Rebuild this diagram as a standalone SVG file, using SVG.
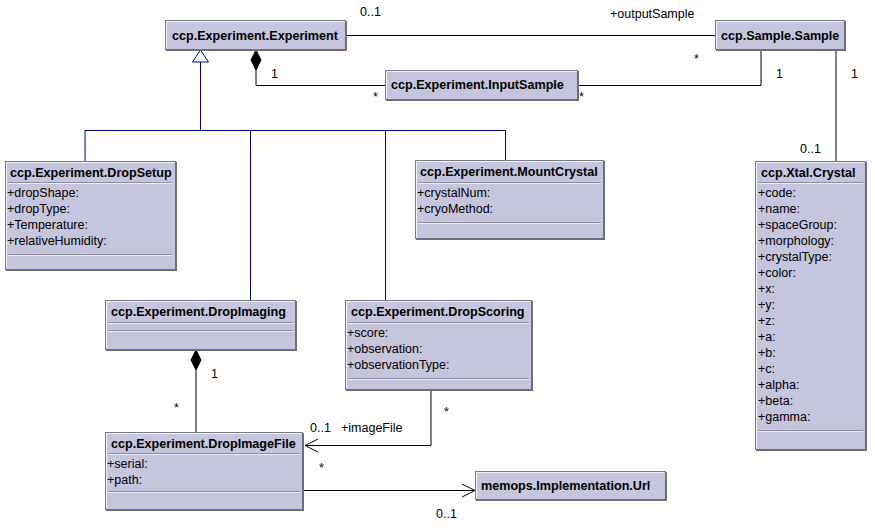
<svg xmlns="http://www.w3.org/2000/svg" width="875" height="530" viewBox="0 0 875 530">
<style>
.box{fill:#c5c5dd;stroke:#7a7a86;stroke-width:1}
.hl{stroke:#f2f2f8;stroke-width:1;fill:none}
.sh{stroke:#6e6e78;stroke-width:2;fill:none}
.sep{stroke:#8e8e9e;stroke-width:1}
.sepw{stroke:#ececf4;stroke-width:1}
.t{font-family:"Liberation Sans",Arial,sans-serif;font-weight:bold;font-size:12.6px;fill:#000}
.a{font-family:"Liberation Sans",Arial,sans-serif;font-size:12.5px;fill:#000}
.l{font-family:"Liberation Sans",Arial,sans-serif;font-size:12.5px;fill:#000}
.c{stroke:#000;stroke-width:1;fill:none}
.g{stroke:#000080;stroke-width:1;fill:none}
</style>
<rect width="875" height="530" fill="#fff"/>
<g id="connectors">
<path class="c" d="M345,35.5H715"/>
<path class="c" d="M256,70V85.5H385"/>
<path class="c" d="M761,50V85.5H577"/>
<path class="c" d="M836,50V161"/>
<path class="g" d="M200.5,62V130.5M85,130.5H505.5M85,130V161M250.5,130V300M385.5,130V300M505.5,130V160"/>
<polygon points="200.5,50 192.5,62 208.5,62" fill="#fff" stroke="#000080"/>
<polygon points="256,50 261,60 256,70 251,60" fill="#000" stroke="#000"/>
<path class="c" d="M196,370V432"/>
<polygon points="196,350 201,360 196,370 191,360" fill="#000" stroke="#000"/>
<path class="c" d="M431,390V445.5H305M318,439L305,445.5L318,452"/>
<path class="c" d="M303,490.5H475M462,484L475,490.5L462,497"/>
<text class="l" x="360" y="16">0..1</text>
<text class="l" x="610" y="18">+outputSample</text>
<text class="l" x="694" y="63">*</text>
<text class="l" x="271" y="78">1</text>
<text class="l" x="373" y="101">*</text>
<text class="l" x="579" y="101">*</text>
<text class="l" x="776" y="78">1</text>
<text class="l" x="851" y="78">1</text>
<text class="l" x="800" y="153">0..1</text>
<text class="l" x="211" y="378">1</text>
<text class="l" x="174" y="412">*</text>
<text class="l" x="444" y="416">*</text>
<text class="l" x="310" y="432">0..1</text>
<text class="l" x="341" y="432">+imageFile</text>
<text class="l" x="319" y="472">*</text>
<text class="l" x="436" y="518">0..1</text>
</g>
<g id="Experiment">
<rect class="box" x="165.5" y="20.5" width="180" height="29"/>
<path class="hl" d="M166.5,48.5V21.5H344.5"/><path class="sh" d="M166,50H346V21"/>
<text class="t" x="172" y="40">ccp.Experiment.Experiment</text>
</g>
<g id="InputSample">
<rect class="box" x="385.5" y="70.5" width="192" height="29"/>
<path class="hl" d="M386.5,98.5V71.5H576.5"/><path class="sh" d="M386,100H578V71"/>
<text class="t" x="391" y="89">ccp.Experiment.InputSample</text>
</g>
<g id="Sample">
<rect class="box" x="715.5" y="20.5" width="129" height="29"/>
<path class="hl" d="M716.5,48.5V21.5H843.5"/><path class="sh" d="M716,50H845V21"/>
<text class="t" x="721" y="40">ccp.Sample.Sample</text>
</g>
<g id="DropSetup">
<rect class="box" x="5.5" y="161.5" width="170" height="108"/>
<path class="hl" d="M6.5,268.5V162.5H174.5"/><path class="sh" d="M6,270H176V162"/>
<text class="t" x="10" y="177">ccp.Experiment.DropSetup</text>
<path class="sep" d="M8,182.5H172M8,254.5H172"/><path class="sepw" d="M8,183.5H172M8,255.5H172"/>
<text class="a" x="7" y="197">+dropShape:</text>
<text class="a" x="7" y="213">+dropType:</text>
<text class="a" x="7" y="229">+Temperature:</text>
<text class="a" x="7" y="245">+relativeHumidity:</text>
</g>
<g id="MountCrystal">
<rect class="box" x="415.5" y="160.5" width="188" height="78"/>
<path class="hl" d="M416.5,237.5V161.5H602.5"/><path class="sh" d="M416,239H604V161"/>
<text class="t" x="420" y="176">ccp.Experiment.MountCrystal</text>
<path class="sep" d="M418,182.5H601M418,222.5H601"/><path class="sepw" d="M418,183.5H601M418,223.5H601"/>
<text class="a" x="417" y="197">+crystalNum:</text>
<text class="a" x="417" y="213">+cryoMethod:</text>
</g>
<g id="Crystal">
<rect class="box" x="755.5" y="161.5" width="110" height="288"/>
<path class="hl" d="M756.5,448.5V162.5H864.5"/><path class="sh" d="M756,450H866V162"/>
<text class="t" x="761" y="177">ccp.Xtal.Crystal</text>
<path class="sep" d="M758,182.5H863M758,430.5H863"/><path class="sepw" d="M758,183.5H863M758,431.5H863"/>
<text class="a" x="758" y="197">+code:</text>
<text class="a" x="758" y="213">+name:</text>
<text class="a" x="758" y="229">+spaceGroup:</text>
<text class="a" x="758" y="245">+morphology:</text>
<text class="a" x="758" y="261">+crystalType:</text>
<text class="a" x="758" y="277">+color:</text>
<text class="a" x="758" y="293">+x:</text>
<text class="a" x="758" y="309">+y:</text>
<text class="a" x="758" y="325">+z:</text>
<text class="a" x="758" y="341">+a:</text>
<text class="a" x="758" y="357">+b:</text>
<text class="a" x="758" y="373">+c:</text>
<text class="a" x="758" y="389">+alpha:</text>
<text class="a" x="758" y="405">+beta:</text>
<text class="a" x="758" y="421">+gamma:</text>
</g>
<g id="DropImaging">
<rect class="box" x="105.5" y="300.5" width="190" height="49"/>
<path class="hl" d="M106.5,348.5V301.5H294.5"/><path class="sh" d="M106,350H296V301"/>
<text class="t" x="111" y="316">ccp.Experiment.DropImaging</text>
<path class="sep" d="M108,322.5H293M108,330.5H293"/><path class="sepw" d="M108,323.5H293M108,331.5H293"/>
</g>
<g id="DropScoring">
<rect class="box" x="345.5" y="300.5" width="186" height="89"/>
<path class="hl" d="M346.5,388.5V301.5H530.5"/><path class="sh" d="M346,390H532V301"/>
<text class="t" x="351" y="316">ccp.Experiment.DropScoring</text>
<path class="sep" d="M348,322.5H529M348,378.5H529"/><path class="sepw" d="M348,323.5H529M348,379.5H529"/>
<text class="a" x="347" y="337">+score:</text>
<text class="a" x="347" y="353">+observation:</text>
<text class="a" x="347" y="369">+observationType:</text>
</g>
<g id="DropImageFile">
<rect class="box" x="105.5" y="432.5" width="197" height="77"/>
<path class="hl" d="M106.5,508.5V433.5H301.5"/><path class="sh" d="M106,510H303V433"/>
<text class="t" x="111" y="448">ccp.Experiment.DropImageFile</text>
<path class="sep" d="M108,453.5H300M108,491.5H300"/><path class="sepw" d="M108,454.5H300M108,492.5H300"/>
<text class="a" x="107" y="468">+serial:</text>
<text class="a" x="107" y="484">+path:</text>
</g>
<g id="Url">
<rect class="box" x="475.5" y="471.5" width="190" height="28"/>
<path class="hl" d="M476.5,498.5V472.5H664.5"/><path class="sh" d="M476,500H666V472"/>
<text class="t" x="481" y="490">memops.Implementation.Url</text>
</g>
</svg>
